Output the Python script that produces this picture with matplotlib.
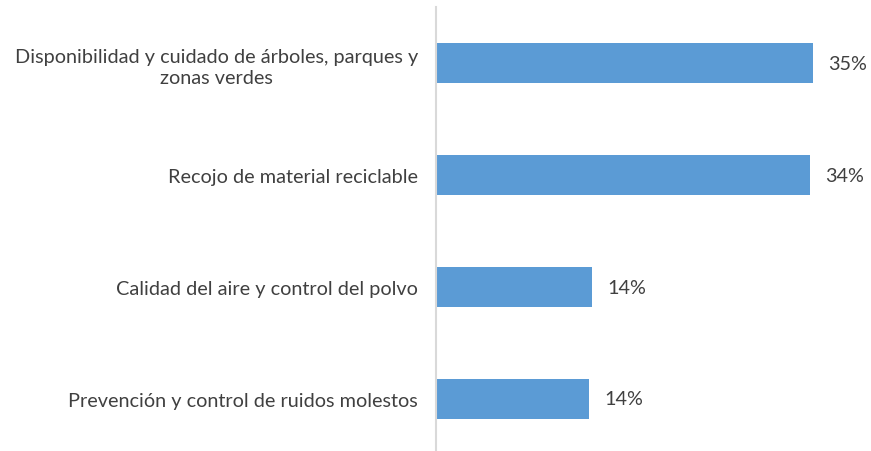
import matplotlib
matplotlib.use("Agg")
import matplotlib.pyplot as plt

categories = [
    "Disponibilidad y cuidado de árboles, parques y\nzonas verdes",
    "Recojo de material reciclable",
    "Calidad del aire y control del polvo",
    "Prevención y control de ruidos molestos",
]
values = [34.6, 34.3, 14.3, 14.05]
labels = ["35%", "34%", "14%", "14%"]

W, H = 871, 452
fig = plt.figure(figsize=(W / 100, H / 100), dpi=100)
left = 436 / W
top = 8 / H
bottom = 456 / H
ax = fig.add_axes([left, 1 - bottom, 1 - left, bottom - top])

ypos = list(range(len(categories)))
ax.barh(ypos, values, height=0.357, color="#5B9BD5")
ax.set_ylim(3.5, -0.5)
ax.set_xlim(0, (W - 436) / 10.9)

font = "Lato"
ax.set_yticks(ypos)
ax.set_yticklabels(categories, fontsize=14.3, color="#404040", family=font,
                   multialignment="center", linespacing=1.3)
ax.tick_params(axis="y", length=0, pad=13)
ax.set_xticks([])
for s in ["top", "right", "bottom"]:
    ax.spines[s].set_visible(False)
ax.spines["left"].set_color("#D9D9D9")
ax.spines["left"].set_linewidth(1.5)

for y, v, lab in zip(ypos, values, labels):
    ax.text(v + 1.4, y, lab, va="center", ha="left", fontsize=14.2,
            color="#404040", family=font)

fig.savefig("out.png", dpi=100)
